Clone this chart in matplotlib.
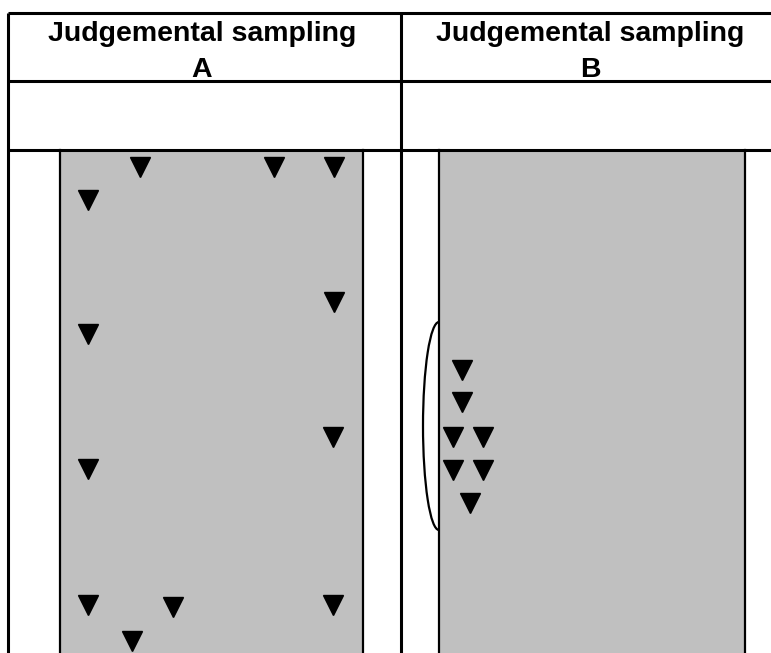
import matplotlib.pyplot as plt
from matplotlib.patches import Rectangle, Arc

plt.rcParams['font.family'] = ['Liberation Sans', 'DejaVu Sans']

# header texts
col_titles = ["Judgemental sampling", "Judgemental sampling"]
col_letters = ["A", "B"]

# sample points (picture coordinates, y going down)
a_x = [140, 274, 334, 88, 334, 88, 333, 88, 88, 173, 333, 132]
a_y = [167, 167, 167, 200, 302, 334, 437, 469, 605, 607, 605, 641]
b_x = [462, 462, 453, 483, 453, 483, 470]
b_y = [370, 402, 437, 437, 470, 470, 503]

W, H = 771, 653
fig = plt.figure(figsize=(W / 100, H / 100), dpi=100)
ax = fig.add_axes([0, 0, 1, 1])
ax.set_xlim(0, W)
ax.set_ylim(H, 0)
ax.axis("off")

# table grid
left, mid, top = 8, 401, 13
row1, row2 = 81, 150
for y in [top, row1, row2]:
    ax.plot([left, W], [y, y], color="black", lw=2.2, solid_capstyle="butt")
for x in [left, mid]:
    ax.plot([x, x], [top, H], color="black", lw=2.2, solid_capstyle="butt")

# grey fields
fields = [(60, 363), (439, 745)]
for x0, x1 in fields:
    ax.add_patch(Rectangle((x0, row2), x1 - x0, H - row2,
                           facecolor="#c0c0c0", edgecolor="none", zorder=1))
    ax.plot([x0, x0], [row2, H], color="black", lw=1.6, zorder=2)
    ax.plot([x1, x1], [row2, H], color="black", lw=1.6, zorder=2)

# headers
centers = [202, 590]
for cx, t, l in zip(centers, col_titles, col_letters):
    ax.text(cx, 41, t, ha="center", va="baseline", fontsize=20.5,
            fontweight="bold")
    ax.text(cx, 77, l, ha="center", va="baseline", fontsize=20.5,
            fontweight="bold")

# arc beside field B
ax.add_patch(Arc((439, 426), 32, 208, theta1=90, theta2=270,
                 color="black", lw=1.6, zorder=3))

ax.plot(a_x, a_y, "v", color="black", ms=14, zorder=4)
ax.plot(b_x, b_y, "v", color="black", ms=14, zorder=4)

fig.savefig("out.png", dpi=100)
